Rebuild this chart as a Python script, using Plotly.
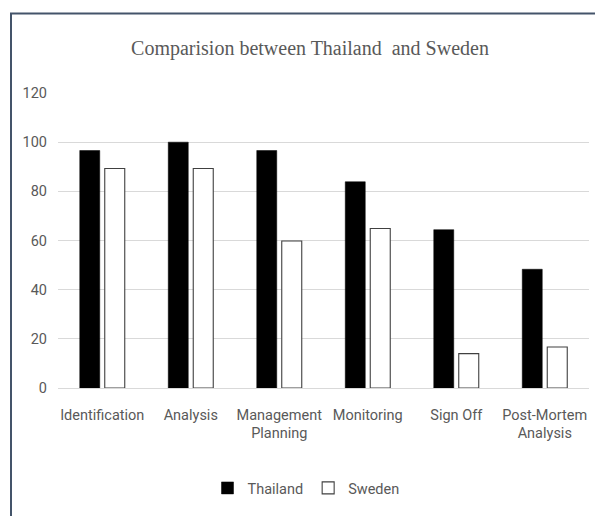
import plotly.graph_objects as go

categories = ["Identification", "Analysis", "Management<br>Planning", "Monitoring", "Sign Off", "Post-Mortem<br>Analysis"]
thailand = [96.6, 100, 96.6, 83.9, 64.4, 48.3]
sweden = [89.3, 89.3, 59.8, 64.9, 14.0, 16.7]
y_ticks = [0, 20, 40, 60, 80, 100, 120]

W, H = 595, 516
L, R, T, B = 58, 6, 93, 128
pw = W - L - R
ph = H - T - B

narrow = "Roboto, sans-serif"
grey = "#595959"
fs = 14.5

fig = go.Figure()
fig.add_trace(go.Bar(name="Thailand", x=categories, y=thailand,
                     marker=dict(color="#000000", line=dict(color="#000000", width=0.5))))
fig.add_trace(go.Bar(name="Sweden", x=categories, y=sweden,
                     marker=dict(color="#FFFFFF", line=dict(color="#404040", width=1.1))))

def px_x(p):
    return (p - L) / pw

def px_y(p):
    return (H - B - p) / ph

fig.update_layout(
    width=W, height=H,
    margin=dict(l=L, r=R, t=T, b=B),
    paper_bgcolor="white", plot_bgcolor="white",
    barmode="group", bargap=0.435, bargroupgap=0.2,
    title=dict(text="Comparision between Thailand\u00a0 and Sweden",
               font=dict(family="Liberation Serif, Times New Roman, serif", size=20, color=grey),
               x=310 / W, xanchor="center", xref="container",
               y=1 - 48 / H, yanchor="middle", yref="container"),
    font=dict(family=narrow, size=fs, color=grey),
    xaxis=dict(showgrid=False, showline=False, ticks="", tickfont=dict(size=fs, color=grey),
               tickangle=0, automargin=False, ticklabelstandoff=16),
    yaxis=dict(range=[0, 120], tickvals=y_ticks, showgrid=True, gridcolor="#D9D9D9", gridwidth=1,
               zeroline=True, zerolinecolor="#D9D9D9", zerolinewidth=1, showline=False,
               ticks="", tickfont=dict(size=fs, color=grey), ticklabelstandoff=10,
               automargin=False),
    legend=dict(orientation="h", x=px_x(306), xanchor="center", y=px_y(488), yanchor="middle",
                font=dict(size=fs, color=grey), itemwidth=30, traceorder="normal"),
    showlegend=True,
    shapes=[dict(type="rect", xref="paper", yref="paper",
                 x0=px_x(11), x1=px_x(610), y0=px_y(540), y1=px_y(13.5),
                 line=dict(color="#44546A", width=2), fillcolor="rgba(0,0,0,0)", layer="above")],
)

fig.write_html("out.html")
